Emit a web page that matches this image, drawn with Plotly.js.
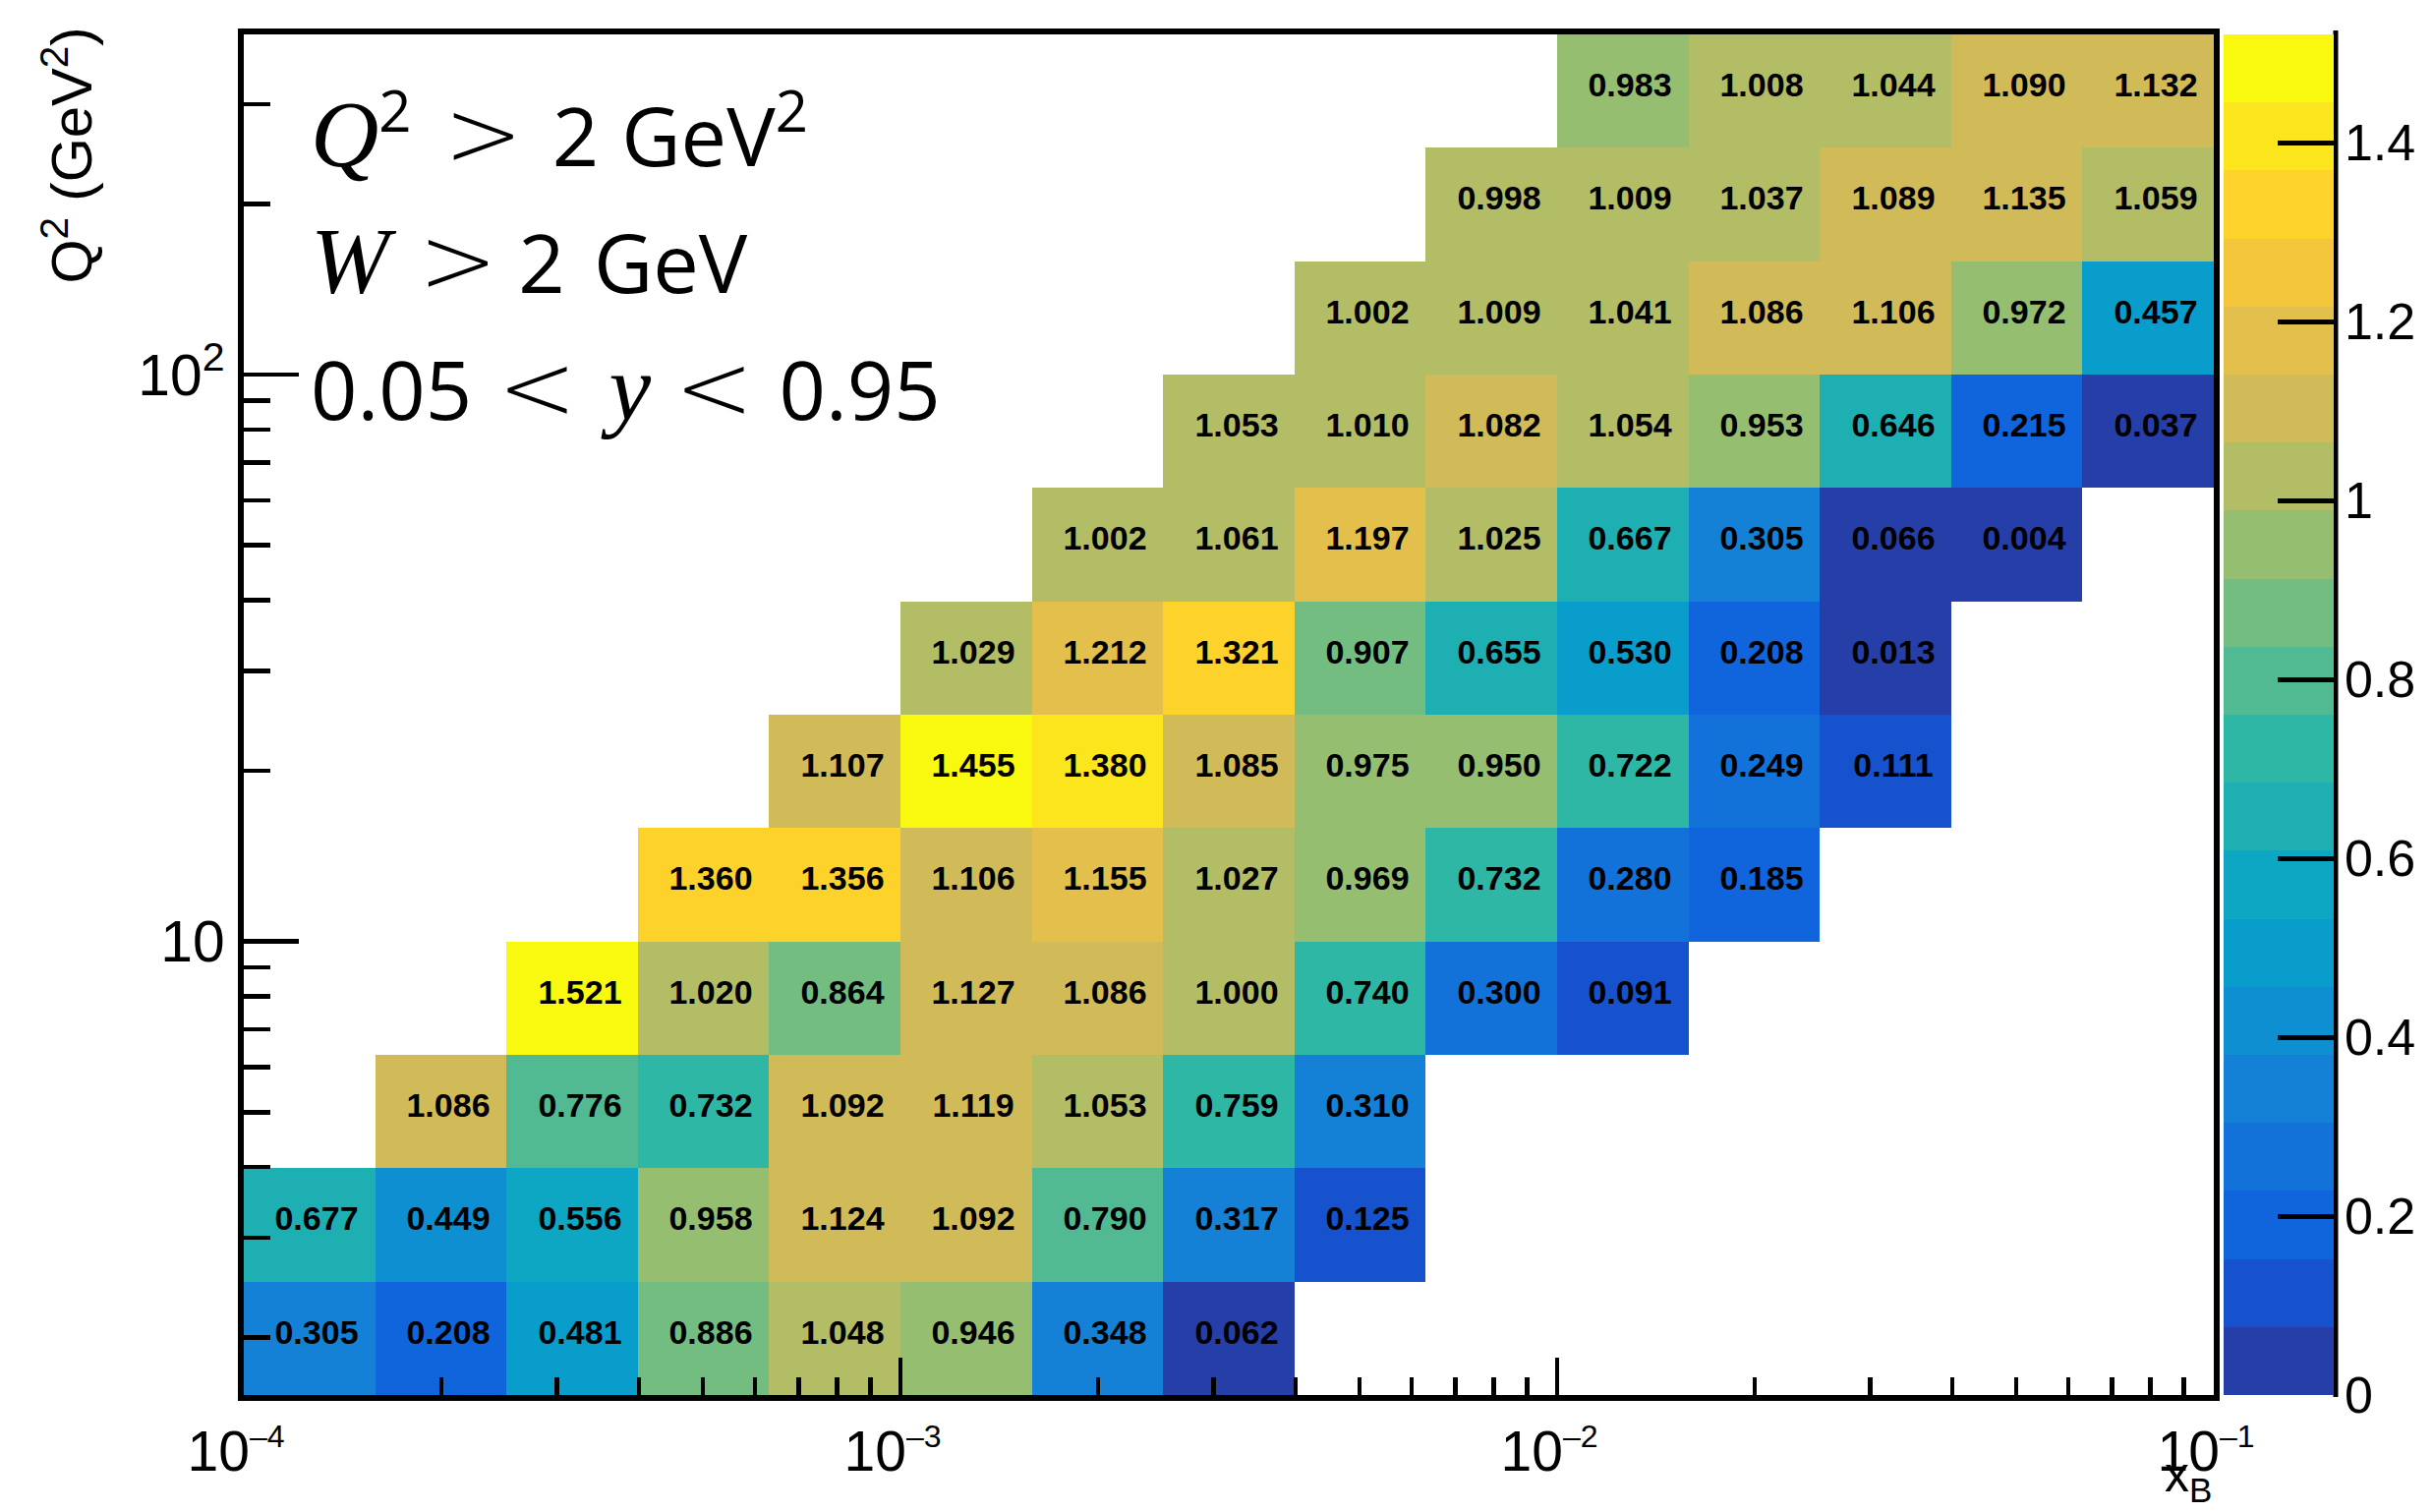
<!DOCTYPE html>
<html><head><meta charset="utf-8">
<script src="https://cdn.plot.ly/plotly-3.0.1.min.js"></script>
<style>html,body{margin:0;padding:0;background:#fff;} #chart{width:2475px;height:1538px;}</style>
</head><body><div id="chart"></div>
<script>
// ---- bin edges (log10 of x_B and of Q^2) ----
const xEdgesLog10 = [-4.0,-3.8,-3.6,-3.4,-3.2,-3.0,-2.8,-2.6,-2.4,-2.2,-2.0,-1.8,-1.6,-1.4,-1.2,-1.0];
const q2EdgesLog10 = [0.2,0.4,0.6,0.8,1.0,1.2,1.4,1.6,1.8,2.0,2.2,2.4,2.6];

// ---- cell values, one array per Q^2 bin (bottom to top), one entry per x_B bin ----
const q2Bin01 = [0.305,0.208,0.481,0.886,1.048,0.946,0.348,0.062,null,null,null,null,null,null,null];
const q2Bin02 = [0.677,0.449,0.556,0.958,1.124,1.092,0.790,0.317,0.125,null,null,null,null,null,null];
const q2Bin03 = [null,1.086,0.776,0.732,1.092,1.119,1.053,0.759,0.310,null,null,null,null,null,null];
const q2Bin04 = [null,null,1.521,1.020,0.864,1.127,1.086,1.000,0.740,0.300,0.091,null,null,null,null];
const q2Bin05 = [null,null,null,1.360,1.356,1.106,1.155,1.027,0.969,0.732,0.280,0.185,null,null,null];
const q2Bin06 = [null,null,null,null,1.107,1.455,1.380,1.085,0.975,0.950,0.722,0.249,0.111,null,null];
const q2Bin07 = [null,null,null,null,null,1.029,1.212,1.321,0.907,0.655,0.530,0.208,0.013,null,null];
const q2Bin08 = [null,null,null,null,null,null,1.002,1.061,1.197,1.025,0.667,0.305,0.066,0.004,null];
const q2Bin09 = [null,null,null,null,null,null,null,1.053,1.010,1.082,1.054,0.953,0.646,0.215,0.037];
const q2Bin10 = [null,null,null,null,null,null,null,null,1.002,1.009,1.041,1.086,1.106,0.972,0.457];
const q2Bin11 = [null,null,null,null,null,null,null,null,null,0.998,1.009,1.037,1.089,1.135,1.059];
const q2Bin12 = [null,null,null,null,null,null,null,null,null,null,0.983,1.008,1.044,1.090,1.132];

// ---- x-axis tick decades (labels 10^n) ----
const xTickExponents = [-4, -3, -2, -1];

// ---- colour axis ----
const zMin = 0;
const zMax = 1.521;
const nContours = 20;
const colorbarTicks = [0,0.2,0.4,0.6,0.8,1.0,1.2,1.4];

// ROOT kBird palette definition
const birdStops = [0.0000,0.1250,0.2500,0.3750,0.5000,0.6250,0.7500,0.8750,1.0000];
const birdRed   = [0.2082,0.0592,0.0780,0.0232,0.1802,0.5301,0.8186,0.9956,0.9764];
const birdGreen = [0.1664,0.3599,0.5041,0.6419,0.7178,0.7492,0.7328,0.7862,0.9832];
const birdBlue  = [0.5293,0.8684,0.8385,0.7914,0.6425,0.4662,0.3499,0.1968,0.0539];

function buildPalette(nColors) {
  const cols = [];
  for (let g = 1; g < birdStops.length; g++) {
    const n = Math.floor(nColors * birdStops[g]) - Math.floor(nColors * birdStops[g-1]);
    for (let c = 0; c < n; c++) {
      const r = birdRed[g-1] + c * (birdRed[g] - birdRed[g-1]) / n;
      const gr = birdGreen[g-1] + c * (birdGreen[g] - birdGreen[g-1]) / n;
      const b = birdBlue[g-1] + c * (birdBlue[g] - birdBlue[g-1]) / n;
      cols.push('rgb(' + Math.round(r*255) + ',' + Math.round(gr*255) + ',' + Math.round(b*255) + ')');
    }
  }
  return cols;
}
const palette = buildPalette(255);
const colorscale = [];
for (let i = 0; i < nContours; i++) {
  let idx = Math.floor((i + 0.99) * palette.length / nContours);
  if (idx > palette.length - 1) idx = palette.length - 1;
  colorscale.push([i / nContours, palette[idx]]);
  colorscale.push([(i + 1) / nContours, palette[idx]]);
}

const xEdges = xEdgesLog10.map(v => Math.pow(10, v));
const yEdges = q2EdgesLog10.map(v => Math.pow(10, v));
const z = [q2Bin01,q2Bin02,q2Bin03,q2Bin04,q2Bin05,q2Bin06,q2Bin07,q2Bin08,q2Bin09,q2Bin10,q2Bin11,q2Bin12];
const cellText = z.map(r => r.map(v => v === null ? '' : v.toFixed(3)));

const xTickVals = xTickExponents.map(e => Math.pow(10, e));
const xTickText = xTickExponents.map(e =>
  '10<sup><span style="font-size:32px">' + (e < 0 ? '\u2013' : '') + Math.abs(e) + '</span></sup>');

// ---- geometry (pixels) ----
const W = 2475, H = 1538;
const L = 248, R = 2252, T = 35, B = 1419;
const pw = R - L, ph = B - T;
const px = x => (x - L) / pw;
const py = y => (B - y) / ph;

const trace = {
  type: 'heatmap',
  x: xEdges, y: yEdges, z: z,
  text: cellText,
  texttemplate: '%{text}',
  textfont: {family: 'Liberation Sans, Arial, sans-serif', size: 34, color: '#000', weight: 'bold'},
  zmin: zMin, zmax: zMax,
  colorscale: colorscale,
  zsmooth: false,
  hoverongaps: false,
  colorbar: {
    x: px(2262), xanchor: 'left', xpad: 0,
    y: 0.5, yanchor: 'middle', ypad: 0,
    len: 1, lenmode: 'fraction',
    thickness: 112, thicknessmode: 'pixels',
    outlinewidth: 0,
    tickmode: 'array', tickvals: colorbarTicks,
    ticks: 'inside', ticklen: 57, tickwidth: 5, tickcolor: '#000',
    tickfont: {family: 'Liberation Sans, Arial, sans-serif', size: 52, color: '#000'},
    ticklabelposition: 'outside'
  }
};

// text helpers for the cut labels
const serifIt = s => '<span style="font-family:Liberation Serif, Times New Roman, serif;font-size:96px"><i>' + s + '</i></span>';
const rel = s => '<span style="font-family:DejaVu Sans, sans-serif;font-size:96px;font-weight:200">' + s + '</span>';
const gap = w => '<span style="font-size:' + Math.round(w / 0.26) + 'px">&nbsp;</span>';

const cutFont = {family: 'Open Sans, Liberation Sans, sans-serif', size: 83, color: '#000'};

const layout = {
  width: W, height: H,
  margin: {l: L, r: W - R, t: T, b: H - B, pad: 0, autoexpand: false},
  paper_bgcolor: '#fff', plot_bgcolor: '#fff',
  showlegend: false,
  font: {family: 'Liberation Sans, Arial, sans-serif', color: '#000'},
  xaxis: {
    type: 'log', range: [-4, -1], autorange: false,
    showgrid: false, zeroline: false,
    showline: true, linewidth: 6, linecolor: '#000', mirror: true,
    ticks: 'inside', ticklen: 38, tickwidth: 4.5, tickcolor: '#000',
    tickmode: 'array', tickvals: xTickVals, ticktext: xTickText,
    tickfont: {family: 'Liberation Sans, Arial, sans-serif', size: 57, color: '#000'},
    ticklabelstandoff: 3, ticklabelshift: -8,
    minor: {ticks: 'inside', ticklen: 18, tickwidth: 4.5, tickcolor: '#000', dtick: 'D1', showgrid: false}
  },
  yaxis: {
    type: 'log', range: [0.2, 2.6], autorange: false,
    showgrid: false, zeroline: false,
    showline: true, linewidth: 6, linecolor: '#000', mirror: true,
    ticks: 'inside', ticklen: 56, tickwidth: 4.5, tickcolor: '#000',
    dtick: 1, exponentformat: 'power',
    tickfont: {family: 'Liberation Sans, Arial, sans-serif', size: 47, color: '#000'},
    ticklabelstandoff: 4,
    minor: {ticks: 'inside', ticklen: 27, tickwidth: 4.5, tickcolor: '#000', dtick: 'D1', showgrid: false}
  },
  shapes: [
    {type: 'line', xref: 'paper', yref: 'paper', x0: px(2376), x1: px(2376), y0: py(1421), y1: py(31),
     line: {color: '#000', width: 5}}
  ],
  annotations: [
    {xref: 'paper', yref: 'paper', x: px(68), y: py(26), xanchor: 'center', yanchor: 'top',
     textangle: -90, showarrow: false,
     text: 'Q<sup>2</sup> (GeV<sup>2</sup>)',
     font: {family: 'Liberation Sans, Arial, sans-serif', size: 58, color: '#000'}},
    {xref: 'paper', yref: 'paper', x: px(2252), y: py(1537), xanchor: 'right', yanchor: 'bottom',
     showarrow: false, text: 'x<sub>B</sub>',
     font: {family: 'Liberation Sans, Arial, sans-serif', size: 50, color: '#000'}},
    {xref: 'paper', yref: 'paper', x: px(314), y: py(120), xanchor: 'left', yanchor: 'middle',
     showarrow: false, align: 'left',
     text: serifIt('Q') + '<sup>2</sup>' + gap(33) + rel('&gt;') + gap(30) + '2' + gap(23) + 'GeV<sup>2</sup>',
     font: cutFont},
    {xref: 'paper', yref: 'paper', x: px(314), y: py(253), xanchor: 'left', yanchor: 'middle',
     showarrow: false, align: 'left',
     text: serifIt('W') + gap(30) + rel('&gt;') + gap(21) + '2' + gap(29) + 'GeV',
     font: cutFont},
    {xref: 'paper', yref: 'paper', x: px(314), y: py(378), xanchor: 'left', yanchor: 'middle',
     showarrow: false, align: 'left',
     text: '0.05' + gap(26) + rel('&lt;') + gap(33) + serifIt('y') + gap(24) + rel('&lt;') + gap(26) + '0.95',
     font: cutFont}
  ]
};

Plotly.newPlot('chart', [trace], layout, {staticPlot: true, displayModeBar: false});
</script>
</body></html>
